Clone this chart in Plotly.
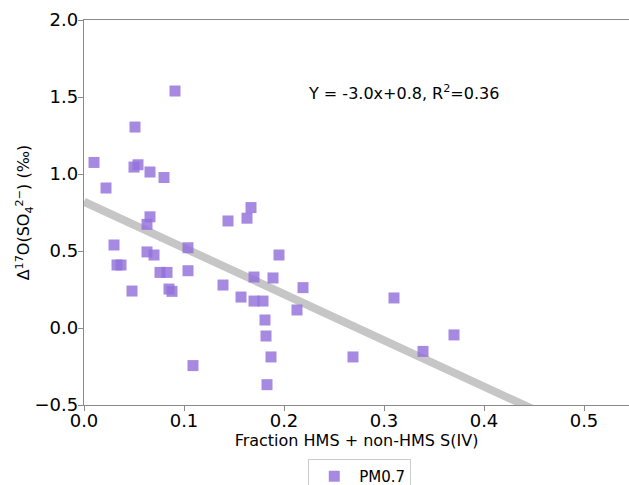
import plotly.graph_objects as go

# Data
frac_s4 = [0.010, 0.022, 0.051, 0.091, 0.050, 0.054, 0.066, 0.080,
           0.030, 0.066, 0.063, 0.033, 0.037, 0.048, 0.063, 0.070,
           0.076, 0.083, 0.085, 0.088, 0.104, 0.104, 0.109, 0.139,
           0.144, 0.157, 0.163, 0.167, 0.170, 0.170, 0.179, 0.181,
           0.182, 0.187, 0.183, 0.189, 0.195, 0.213, 0.219, 0.269,
           0.310, 0.339, 0.370]
d17o = [1.075, 0.909, 1.305, 1.539, 1.045, 1.060, 1.013, 0.977,
        0.539, 0.722, 0.673, 0.409, 0.409, 0.240, 0.494, 0.474,
        0.361, 0.361, 0.253, 0.238, 0.521, 0.372, -0.244, 0.279,
        0.695, 0.201, 0.713, 0.782, 0.331, 0.175, 0.175, 0.052,
        -0.052, -0.188, -0.368, 0.325, 0.474, 0.117, 0.262, -0.188,
        0.195, -0.152, -0.045]

fit_slope = -3.0
fit_intercept = 0.82
fit_r2 = 0.36
fit_x = [0.0, 0.55]
fit_y = [fit_slope * v + fit_intercept for v in fit_x]

x_ticks = [0.0, 0.1, 0.2, 0.3, 0.4, 0.5]
y_ticks = [-0.5, 0.0, 0.5, 1.0, 1.5, 2.0]

FONT = "DejaVu Sans"

fig = go.Figure()
fig.add_trace(go.Scatter(
    x=fit_x, y=fit_y, mode="lines",
    line=dict(color="#c6c6c6", width=8),
    showlegend=False, hoverinfo="skip",
))
fig.add_trace(go.Scatter(
    x=frac_s4, y=d17o, mode="markers", name="PM0.7",
    marker=dict(symbol="square", size=11, color="rgba(147,112,219,0.82)",
                line=dict(width=0)),
))

fig.add_annotation(
    x=0.222, y=1.53, xref="x", yref="y", xanchor="left", yanchor="middle",
    text=f"Y = {fit_slope:.1f}x+{fit_intercept:.1f}, R<sup>2</sup>={fit_r2:.2f}",
    showarrow=False, font=dict(family=FONT, size=16, color="black"),
)

axis_common = dict(
    showgrid=False, zeroline=False, showline=True, linecolor="#8a8a8a",
    linewidth=1.3, ticks="outside", ticklen=5, tickwidth=1.2,
    tickcolor="#8a8a8a", tickfont=dict(family=FONT, size=18, color="black"),
    automargin=False,
)

fig.update_layout(
    width=629, height=485,
    margin=dict(l=84, r=0, t=20, b=80, autoexpand=False),
    plot_bgcolor="white", paper_bgcolor="white",
    font=dict(family=FONT, color="black"),
    xaxis=dict(range=[0, 0.545], tickvals=x_ticks,
               ticktext=[f"{v:.1f}" for v in x_ticks], mirror=True,
               ticklabelstandoff=-6,
               title=dict(text="Fraction HMS + non-HMS S(IV)",
                          font=dict(family=FONT, size=16), standoff=0),
               **axis_common),
    yaxis=dict(range=[-0.5, 2.0], tickvals=y_ticks,
               ticktext=[f"{v:.1f}".replace("-", "\u2212") for v in y_ticks],
               ticklabelstandoff=-4,
               title=dict(text="\u0394<sup>17</sup>O(SO<sub>4</sub><sup>2\u2212</sup>) (\u2030)",
                          font=dict(family=FONT, size=16), standoff=0),
               **axis_common),
    legend=dict(x=0.506, y=-0.14, xanchor="center", yanchor="top",
                bordercolor="#cccccc", borderwidth=1, itemwidth=40,
                font=dict(family=FONT, size=15, color="black"),
                bgcolor="white"),
)

fig.write_html("out.html")
